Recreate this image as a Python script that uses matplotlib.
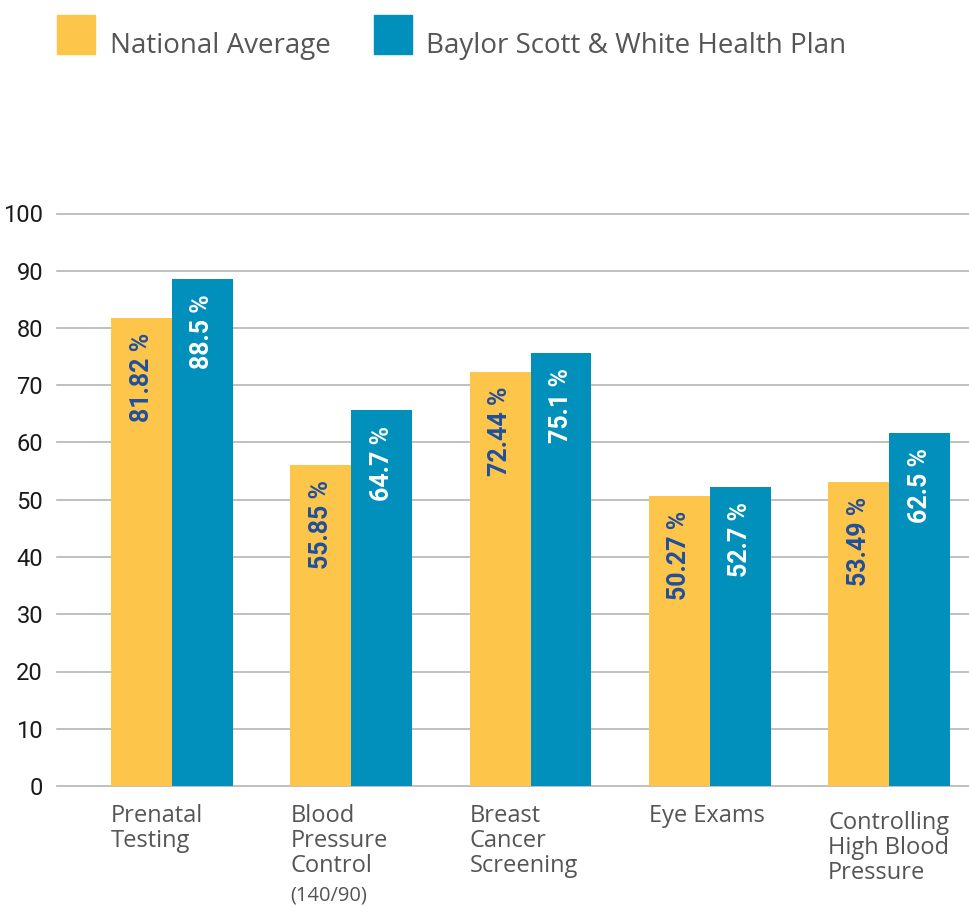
import matplotlib
matplotlib.use("Agg")
import matplotlib.pyplot as plt
from matplotlib.patches import Rectangle
import numpy as np

categories = ["Prenatal\nTesting", "Blood\nPressure\nControl", "Breast\nCancer\nScreening",
              "Eye Exams", "Controlling\nHigh Blood\nPressure"]
category_notes = ["", "(140/90)", "", "", ""]
series_names = ["National Average", "Baylor Scott & White Health Plan"]
national = [81.8, 56.0, 72.4, 50.7, 53.1]
bswhp = [88.6, 65.6, 75.6, 52.2, 61.7]
national_labels = ["81.82 %", "55.85 %", "72.44 %", "50.27 %", "53.49 %"]
bswhp_labels = ["88.5 %", "64.7 %", "75.1 %", "52.7 %", "62.5 %"]
yticks = [0, 10, 20, 30, 40, 50, 60, 70, 80, 90, 100]

YELLOW = "#FEC54B"
BLUE = "#0190BB"
DARKBLUE = "#1F4F9E"
GRAY_TXT = "#555555"
GRID = "#B5B5B5"

W, H = 969, 906
fig = plt.figure(figsize=(W / 100, H / 100), dpi=100)
ax = fig.add_axes([57 / W, 1 - 786 / H, (969 - 57) / W, (786 - 213.5) / H])

narrow = ["Roboto", "DejaVu Sans"]
body = ["Open Sans", "DejaVu Sans"]

x = np.arange(len(categories))
w = 0.34
ax.bar(x - w / 2, national, w, color=YELLOW, zorder=3)
ax.bar(x + w / 2, bswhp, w, color=BLUE, zorder=3)

ax.set_xlim(-0.6416, 4.446)
ax.set_ylim(0, 100)
for s in ax.spines.values():
    s.set_visible(False)
ax.set_yticks(yticks)
ax.set_yticklabels([str(t) for t in yticks], family=narrow, fontsize=17, color="#1a1a1a")
ax.tick_params(axis="y", length=0, pad=10)
ax.set_xticks([])
for t in yticks:
    ax.axhline(t, color=GRID, lw=1.2, zorder=1, clip_on=False)

for i in range(len(categories)):
    ax.annotate(national_labels[i], xy=(x[i] - w / 2, national[i]), xytext=(0, -15),
                textcoords="offset pixels", rotation=90, ha="center", va="top",
                family=narrow, fontweight="bold", fontsize=18, color=DARKBLUE, zorder=4)
    ax.annotate(bswhp_labels[i], xy=(x[i] + w / 2, bswhp[i]), xytext=(0, -15),
                textcoords="offset pixels", rotation=90, ha="center", va="top",
                family=narrow, fontweight="bold", fontsize=18, color="white", zorder=4)

tr = ax.get_xaxis_transform()
offsets = [-18, -18, -18, -18, -25]
for i, cat in enumerate(categories):
    ax.annotate(cat, xy=(x[i] - w, 0), xycoords=tr, xytext=(0, offsets[i]),
                textcoords="offset pixels", ha="left", va="top", family=body,
                fontsize=17, color=GRAY_TXT, linespacing=1.06, annotation_clip=False)
    if category_notes[i]:
        ax.annotate(category_notes[i], xy=(x[i] - w, 0), xycoords=tr, xytext=(0, offsets[i] - 81),
                    textcoords="offset pixels", ha="left", va="top", family=body,
                    fontsize=14.5, color=GRAY_TXT, annotation_clip=False)

# legend
for (lx, tx, col, name) in [(57, 110, YELLOW, series_names[0]), (374, 426, BLUE, series_names[1])]:
    fig.patches.append(Rectangle((lx / W, 1 - 54 / H), 38 / W, 39 / H, transform=fig.transFigure,
                                 color=col, figure=fig))
    fig.text(tx / W, 1 - 53 / H, name, ha="left", va="baseline", family=body,
             fontsize=20, color=GRAY_TXT)

fig.savefig("out.png", dpi=100)
